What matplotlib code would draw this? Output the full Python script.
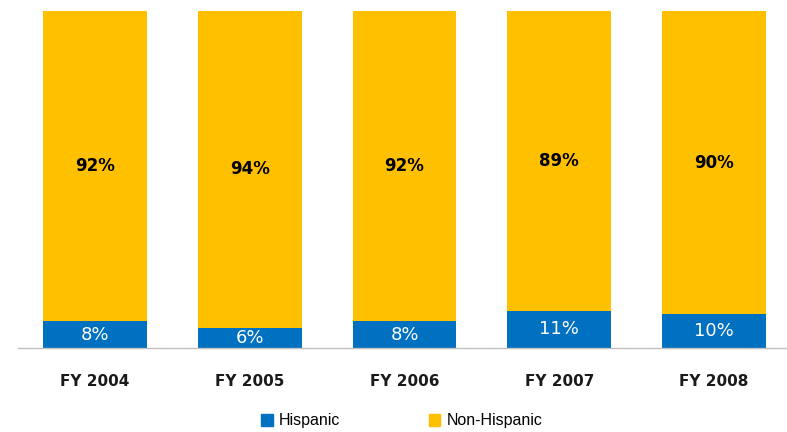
import matplotlib.pyplot as plt
from matplotlib.patches import Patch

# Share of cases by ethnicity, per fiscal year
years = ['FY 2004', 'FY 2005', 'FY 2006', 'FY 2007', 'FY 2008']
hispanic = [8, 6, 8, 11, 10]
non_hispanic = [92, 94, 92, 89, 90]

blue = '#0070C0'
yellow = '#FFC000'

fig = plt.figure(figsize=(7.87, 4.32), dpi=100)
ax = fig.add_axes([0, 84 / 432, 1, 337 / 432])

x = list(range(len(years)))
width = 0.672
ax.bar(x, hispanic, width, color=blue, label='Hispanic')
ax.bar(x, non_hispanic, width, bottom=hispanic, color=yellow, label='Non-Hispanic')

for i in x:
    ax.text(i, hispanic[i] / 2, f'{hispanic[i]}%', ha='center', va='center',
            color='white', fontsize=13)
    ax.text(i, hispanic[i] + non_hispanic[i] / 2, f'{non_hispanic[i]}%',
            ha='center', va='center', color='black', fontsize=12, fontweight='bold')

# center of slot 0 at 95px, slot pitch 154.75px
ax.set_xlim(-95 / 154.75, (787 - 95) / 154.75)
ax.set_ylim(0, 100)

for s in ['top', 'right', 'left']:
    ax.spines[s].set_visible(False)
ax.spines['bottom'].set_color('#BFBFBF')
ax.spines['bottom'].set_linewidth(1)
ax.spines['bottom'].set_bounds(-0.5, 4.5)

ax.set_yticks([])
ax.set_xticks(x)
ax.set_xticklabels(years, fontsize=11, fontweight='bold', color='#1a1a1a')
ax.tick_params(axis='x', length=0, pad=19)

handles = [Patch(color=blue, label='Hispanic'), Patch(color=yellow, label='Non-Hispanic')]
fig.legend(handles=handles, loc='center', bbox_to_anchor=(402 / 787, 1 - 421 / 432),
           ncol=2, frameon=False, handlelength=0.7, handleheight=0.7,
           handletextpad=0.4, columnspacing=5.55,
           prop={'family': 'Liberation Sans', 'size': 11.5})

fig.savefig('out.png', dpi=100)
